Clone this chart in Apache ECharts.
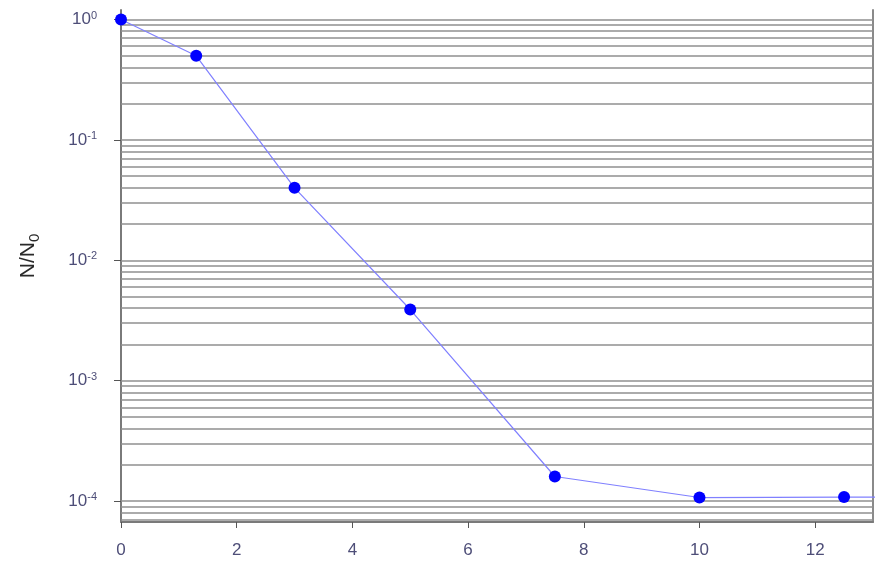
<!DOCTYPE html>
<html>
<head>
<meta charset="utf-8">
<script src="https://cdn.jsdelivr.net/npm/echarts@6/dist/echarts.min.js"></script>
<style>html,body{margin:0;padding:0;background:#fff;}#c{width:879px;height:571px;}</style>
</head>
<body>
<div id="c"></div>
<script>
// ---- data ----
var timeValues = [0, 1.3, 3, 5, 7.5, 10, 12.5, 14];       // last point lies beyond the axis (line runs off the right edge)
var ratioValues = [1, 0.5, 0.04, 0.0039, 0.00016, 0.000107, 0.000108, 0.000108];
var xTicks = [0, 2, 4, 6, 8, 10, 12];
var yMajorTicks = [0.0001, 0.001, 0.01, 0.1, 1];
var yMinorGrid = [
  0.00007, 0.00008, 0.00009,
  0.0002, 0.0003, 0.0004, 0.0005, 0.0006, 0.0007, 0.0008, 0.0009,
  0.002, 0.003, 0.004, 0.005, 0.006, 0.007, 0.008, 0.009,
  0.02, 0.03, 0.04, 0.05, 0.06, 0.07, 0.08, 0.09,
  0.2, 0.3, 0.4, 0.5, 0.6, 0.7, 0.8, 0.9
];
var yMin = 0.000067, yMax = 1.2;
var xMin = 0, xMax = 13;

var gridColor = '#8f8f8f';
var labelColor = '#4e4e78';
var font = 'Liberation Sans, Arial, sans-serif';

var chart = echarts.init(document.getElementById('c'), null, {renderer: 'canvas'});
var pts = timeValues.map(function (t, i) { return [t, ratioValues[i]]; });
var gridLines = yMajorTicks.concat(yMinorGrid).map(function (v) { return {yAxis: v}; });

chart.setOption({
  animation: false,
  backgroundColor: '#ffffff',
  grid: {left: 121, right: 6, top: 10, bottom: 49},
  xAxis: {
    type: 'value', min: xMin, max: xMax, interval: 2,
    axisLine: {show: true, onZero: false, lineStyle: {color: '#7a7a7a', width: 2}},
    axisTick: {show: true, length: 6, customValues: xTicks, lineStyle: {color: '#555', width: 1}},
    axisLabel: {customValues: xTicks, margin: 20, color: labelColor, fontSize: 17, fontFamily: font},
    splitLine: {show: false}
  },
  yAxis: [{
    type: 'log', logBase: 10, min: yMin, max: yMax,
    name: 'N/N{sub|0}', nameLocation: 'middle', nameGap: 79, nameRotate: 90,
    nameTextStyle: {color: '#2a2a2a', fontSize: 21, fontFamily: font, padding: [0, 0, 0, 20],
      rich: {sub: {fontSize: 15, color: '#2a2a2a', padding: [12, 0, 0, 0], fontFamily: font}}},
    axisLine: {show: true, lineStyle: {color: '#7a7a7a', width: 2}},
    axisTick: {show: true, length: 7, customValues: yMajorTicks, lineStyle: {color: '#555', width: 1}},
    axisLabel: {
      customValues: yMajorTicks, margin: 24, color: labelColor,
      formatter: function (v) {
        var e = Math.round(Math.log10(v));
        return '10{sup|' + e + '}';
      },
      fontSize: 17, fontFamily: font,
      rich: {sup: {fontSize: 11, color: labelColor, padding: [0, 0, 8, 0], fontFamily: font}}
    },
    splitLine: {show: false},
    minorSplitLine: {show: false}
  }, {
    type: 'log', logBase: 10, min: yMin, max: yMax, position: 'right',
    axisLine: {show: true, lineStyle: {color: '#8a8a8a', width: 2}},
    axisTick: {show: false}, axisLabel: {show: false}, splitLine: {show: false}
  }],
  series: [{
    type: 'line',
    data: pts,
    clip: true,
    symbol: 'circle', symbolSize: 12,
    itemStyle: {color: '#0000ff'},
    lineStyle: {color: '#8080ff', width: 1.2},
    z: 5,
    markLine: {
      silent: true, symbol: ['none', 'none'],
      precision: 10,
      label: {show: false},
      lineStyle: {color: gridColor, width: 1.6, type: 'solid'},
      emphasis: {disabled: true},
      data: gridLines,
      z: 1
    }
  }]
});
</script>
</body>
</html>
